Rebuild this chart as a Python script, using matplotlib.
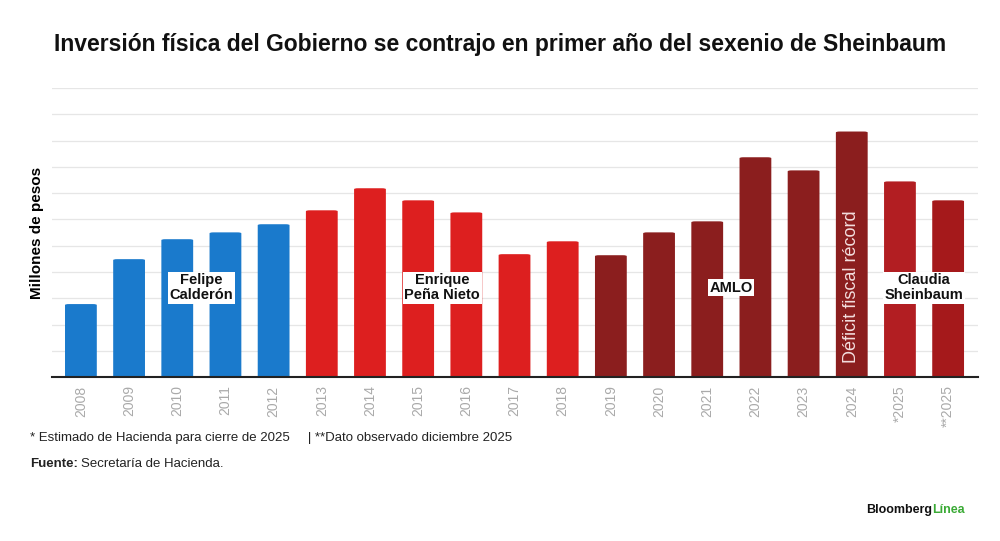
import matplotlib.pyplot as plt
from matplotlib.patches import FancyBboxPatch

years = ["2008", "2009", "2010", "2011", "2012", "2013", "2014", "2015", "2016", "2017",
         "2018", "2019", "2020", "2021", "2022", "2023", "2024", "*2025", "**2025"]
values = [2.78, 4.49, 5.25, 5.51, 5.82, 6.35, 7.19, 6.73, 6.27, 4.68,
          5.17, 4.64, 5.51, 5.93, 8.37, 7.87, 9.35, 7.45, 6.73]
BLUE, RED, DARK = "#1a7acc", "#dd1f1f", "#8b1e1e"
colors = [BLUE] * 5 + [RED] * 6 + [DARK] * 6 + ["#b21e22", "#a5191b"]
periods = [("Felipe\nCalderón", 2.5), ("Enrique\nPeña Nieto", 7.5),
           ("AMLO", 13.5), ("Claudia\nSheinbaum", 17.5)]

plt.rcParams["font.family"] = ["Liberation Sans", "DejaVu Sans"]
fig = plt.figure(figsize=(10, 5.41), dpi=100)
ax = fig.add_axes([0.052, 0.303, 0.926, 0.534])

w = 0.66
for i, (v, c) in enumerate(zip(values, colors)):
    ax.add_patch(FancyBboxPatch((i - w / 2, 0), w, v, boxstyle="round,pad=0,rounding_size=0.08",
                                mutation_aspect=1 / 2.2, fc=c, ec="none", zorder=2))
ax.set_xlim(-0.6, len(years) - 0.38)
ax.set_ylim(0, 11)
ax.set_yticks(range(0, 12))
ax.yaxis.grid(True, color="#e6e6e6", lw=0.9, zorder=0)
ax.tick_params(axis="y", length=0, labelleft=False)
ax.set_xticks(range(len(years)))
ax.set_xticklabels(years, rotation=90, color="#aaaaaa", fontsize=10)
ax.tick_params(axis="x", length=0, pad=6)
for s in ["top", "right", "left"]:
    ax.spines[s].set_visible(False)
ax.spines["bottom"].set_color("#222222")
ax.spines["bottom"].set_linewidth(1.5)
ax.set_ylabel("Millones de pesos", fontsize=11, fontweight="bold", labelpad=6)

for txt, x in periods:
    ax.text(x, 3.4, txt, ha="center", va="center", fontsize=10.5, fontweight="bold",
            color="#111111", linespacing=1.1, zorder=4,
            bbox=dict(boxstyle="square,pad=0.1", fc="white", ec="none"))
ax.text(16, 0.55, "Déficit fiscal récord", rotation=90, ha="center", va="bottom",
        color="#f3dede", fontsize=13, zorder=4)

fig.text(0.5, 0.905, "Inversión física del Gobierno se contrajo en primer año del sexenio de Sheinbaum",
         ha="center", fontsize=16.5, fontweight="bold", color="#111111")
fig.text(0.03, 0.185, "* Estimado de Hacienda para cierre de 2025     | **Dato observado diciembre 2025",
         fontsize=9.5, color="#222222")
fig.text(0.03, 0.137, "Fuente:", fontsize=9.5, fontweight="bold", color="#222222")
fig.text(0.081, 0.137, "Secretaría de Hacienda.", fontsize=9.5, color="#222222")
fig.text(0.866, 0.052, "Bloomberg", fontsize=9, fontweight="bold", color="#111111")
fig.text(0.932, 0.052, "Línea", fontsize=9, fontweight="bold", color="#3aaa35")

fig.savefig("out.png", dpi=100)
